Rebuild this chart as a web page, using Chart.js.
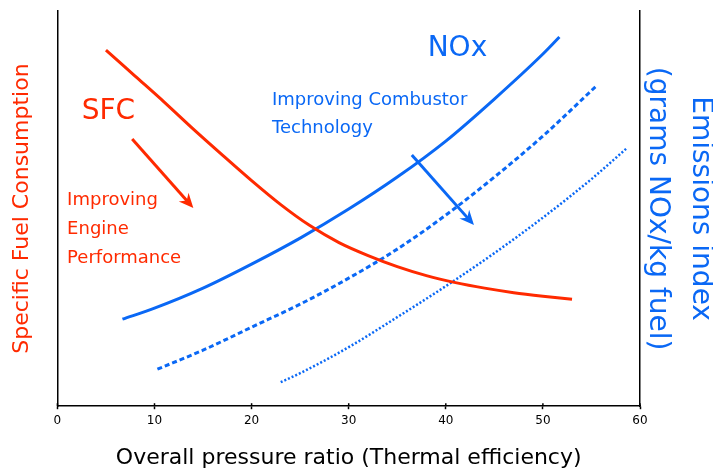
<!DOCTYPE html>
<html>
<head>
<meta charset="utf-8">
<script src="https://cdn.jsdelivr.net/npm/chart.js@4.4.1/dist/chart.umd.min.js"></script>
<style>
  html, body { margin: 0; padding: 0; background: #fff; }
  #myChart { display: block; }
</style>
</head>
<body>
<canvas id="myChart" width="713" height="473"></canvas>
<script>
// x axis ticks (overall pressure ratio)
const xTicks = [0, 10, 20, 30, 40, 50, 60];

// SFC curve (arbitrary units, left axis)
const sfcX = [5, 8, 11, 14, 17, 20, 23, 26, 29, 32, 35, 38, 41, 44, 47, 50, 53];
const sfcY = [356, 330, 304, 277, 251, 225.5, 201.5, 180.5, 163.5, 150.5, 139.5, 130.5, 123.5, 118, 113.5, 110, 107];

// NOx emissions index: today's combustor (solid)
const noxX = [6.7, 10, 15, 20, 25, 30, 35, 40, 45, 50, 51.7];
const noxY = [87, 98, 118, 142, 168, 197, 229, 265, 307, 352, 369];

// improved combustor (dashed)
const noxDashX = [10.3, 15, 20, 25, 30, 35, 40, 45, 50, 55.6];
const noxDashY = [37, 56, 79, 102, 128, 157, 191, 229, 270, 321];

// further improved combustor (dotted)
const noxDotX = [23, 25, 30, 35, 40, 45, 50, 55, 58.6];
const noxDotY = [24, 33, 59, 89, 120, 153, 188.5, 227, 257.5];

const RED = '#ff2a00';
const BLUE = '#0a68f5';
const FONT = "'DejaVu Sans', sans-serif";

const toPoints = (xs, ys) => xs.map((x, i) => ({ x: x, y: ys[i] }));

// labels and arrows placed in data units
const notes = [
  { text: ['SFC'], x: 5.25, y: 294, size: 28, color: RED, align: 'center', gap: 0 },
  { text: ['NOx'], x: 41.2, y: 357, size: 28, color: BLUE, align: 'center', gap: 0 },
  { text: ['Improving', 'Engine', 'Performance'], x: 1.0, y: 206, size: 18, color: RED, align: 'left', gap: 29 },
  { text: ['Improving Combustor', 'Technology'], x: 22.1, y: 306, size: 18, color: BLUE, align: 'left', gap: 28 }
];
const arrows = [
  { from: [7.7, 267], to: [14.0, 198], color: RED },
  { from: [36.5, 251], to: [42.9, 181], color: BLUE }
];

function drawArrow(ctx, x1, y1, x2, y2, color) {
  const ang = Math.atan2(y2 - y1, x2 - x1);
  const len = 16, spread = 0.42;
  ctx.save();
  ctx.strokeStyle = color;
  ctx.fillStyle = color;
  ctx.lineWidth = 3;
  ctx.beginPath();
  ctx.moveTo(x1, y1);
  ctx.lineTo(x2 - Math.cos(ang) * 8, y2 - Math.sin(ang) * 8);
  ctx.stroke();
  ctx.beginPath();
  ctx.moveTo(x2, y2);
  ctx.lineTo(x2 - len * Math.cos(ang - spread), y2 - len * Math.sin(ang - spread));
  ctx.lineTo(x2 - 10 * Math.cos(ang), y2 - 10 * Math.sin(ang));
  ctx.lineTo(x2 - len * Math.cos(ang + spread), y2 - len * Math.sin(ang + spread));
  ctx.closePath();
  ctx.fill();
  ctx.restore();
}

const annotations = {
  id: 'annotations',
  afterDraw(chart) {
    const { ctx, chartArea, scales: { x, y } } = chart;

    // small tick marks on the inside of the x axis
    ctx.save();
    ctx.strokeStyle = '#000';
    ctx.lineWidth = 1.5;
    xTicks.forEach(t => {
      const px = x.getPixelForValue(t);
      ctx.beginPath();
      ctx.moveTo(px, chartArea.bottom - 3);
      ctx.lineTo(px, chartArea.bottom);
      ctx.stroke();
    });
    ctx.restore();

    notes.forEach(n => {
      ctx.save();
      ctx.font = n.size + 'px ' + FONT;
      ctx.fillStyle = n.color;
      ctx.textAlign = n.align;
      ctx.textBaseline = 'middle';
      n.text.forEach((line, i) => {
        ctx.fillText(line, x.getPixelForValue(n.x), y.getPixelForValue(n.y) + i * n.gap);
      });
      ctx.restore();
    });

    arrows.forEach(a => {
      drawArrow(ctx,
        x.getPixelForValue(a.from[0]), y.getPixelForValue(a.from[1]),
        x.getPixelForValue(a.to[0]), y.getPixelForValue(a.to[1]), a.color);
    });

    // right axis title, two lines, read top to bottom
    const midY = (chartArea.top + chartArea.bottom) / 2;
    [['Emissions index', 60], ['(grams NOx/kg fuel)', 17]].forEach(([txt, dx]) => {
      ctx.save();
      ctx.translate(chartArea.right + dx, midY);
      ctx.rotate(Math.PI / 2);
      ctx.font = '28px ' + FONT;
      ctx.fillStyle = BLUE;
      ctx.textAlign = 'center';
      ctx.textBaseline = 'middle';
      ctx.fillText(txt, 0, 0);
      ctx.restore();
    });
  }
};

const lineStyle = {
  pointRadius: 0,
  borderWidth: 3,
  cubicInterpolationMode: 'monotone',
  fill: false
};

const ctx = document.getElementById('myChart');
const myChart = new Chart(ctx, {
  type: 'line',
  data: {
    datasets: [
      { ...lineStyle, label: 'SFC', data: toPoints(sfcX, sfcY), borderColor: RED, yAxisID: 'y' },
      { ...lineStyle, label: 'NOx', data: toPoints(noxX, noxY), borderColor: BLUE, yAxisID: 'y' },
      { ...lineStyle, label: 'NOx improved', data: toPoints(noxDashX, noxDashY), borderColor: BLUE, borderDash: [5, 3], yAxisID: 'y' },
      { ...lineStyle, label: 'NOx further improved', data: toPoints(noxDotX, noxDotY), borderColor: BLUE, borderDash: [2, 2], borderWidth: 2.5, yAxisID: 'y' }
    ]
  },
  options: {
    responsive: false,
    animation: false,
    devicePixelRatio: 1,
    layout: { padding: { top: 11, right: 73, bottom: 0, left: 0 } },
    plugins: {
      legend: { display: false },
      tooltip: { enabled: false }
    },
    scales: {
      x: {
        type: 'linear',
        min: 0,
        max: 60,
        afterBuildTicks: axis => { axis.ticks = xTicks.map(v => ({ value: v })); },
        ticks: { color: '#000', padding: 4, font: { family: FONT, size: 12 } },
        grid: { drawOnChartArea: false, tickLength: 3, tickColor: '#000', tickWidth: 1.5 },
        border: { color: '#000', width: 1.5 },
        title: {
          display: true,
          text: 'Overall pressure ratio (Thermal efficiency)',
          color: '#000',
          font: { family: FONT, size: 22 },
          padding: { top: 13, bottom: 2 }
        }
      },
      y: {
        position: 'left',
        min: 0,
        max: 395,
        ticks: { display: false },
        grid: { drawOnChartArea: false, drawTicks: false },
        border: { color: '#000', width: 1.5 },
        title: {
          display: true,
          text: 'Specific Fuel Consumption',
          color: RED,
          font: { family: FONT, size: 22 },
          padding: { top: 9, bottom: 22 }
        }
      },
      y2: {
        position: 'right',
        min: 0,
        max: 395,
        ticks: { display: false },
        grid: { drawOnChartArea: false, drawTicks: false },
        border: { color: '#000', width: 1.5 }
      }
    }
  },
  plugins: [annotations]
});
</script>
</body>
</html>
